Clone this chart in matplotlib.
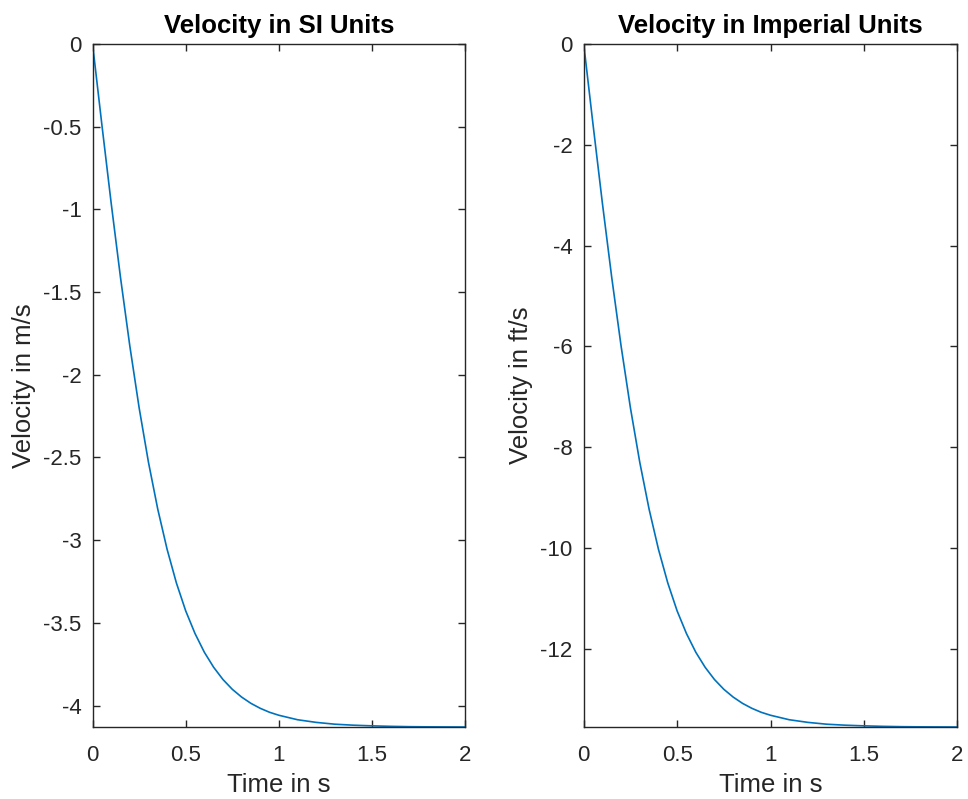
import matplotlib
matplotlib.use('Agg')
import matplotlib.pyplot as plt
from matplotlib.ticker import FormatStrFormatter

# values (velocity in m/s vs time in s)
time_s = [0, 0.05, 0.1, 0.15, 0.2, 0.25, 0.3, 0.35, 0.4, 0.45, 0.5, 0.55, 0.6,
          0.65, 0.7, 0.75, 0.8, 0.85, 0.9, 0.95, 1.0, 1.1, 1.2, 1.3, 1.4, 1.5,
          1.6, 1.7, 1.8, 1.9, 2.0]
vel_ms = [0, -0.488, -0.963, -1.412, -1.826, -2.200, -2.529, -2.813, -3.055,
          -3.259, -3.428, -3.565, -3.678, -3.769, -3.843, -3.902, -3.949,
          -3.987, -4.017, -4.041, -4.059, -4.086, -4.102, -4.113, -4.119,
          -4.123, -4.126, -4.128, -4.129, -4.1295, -4.130]
M_TO_FT = 3.28084
vel_fts = [v * M_TO_FT for v in vel_ms]

plt.rcParams['font.family'] = ['Liberation Sans', 'DejaVu Sans']
plt.rcParams['axes.unicode_minus'] = False

fig = plt.figure(figsize=(9.68, 7.99), dpi=100)
ax1 = fig.add_axes([0.0956, 0.0901, 0.385, 0.855])
ax2 = fig.add_axes([0.603, 0.0901, 0.386, 0.855])

axcol = '#262626'
blue = '#0072BD'

panels = [
    (ax1, vel_ms, 'Velocity in SI Units', 'Velocity in m/s', [0, -0.5, -1, -1.5, -2, -2.5, -3, -3.5, -4]),
    (ax2, vel_fts, 'Velocity in Imperial Units', 'Velocity in ft/s', [0, -2, -4, -6, -8, -10, -12]),
]

for ax, vals, title, ylab, yt in panels:
    ax.plot(time_s, vals, color=blue, lw=1.2)
    ax.set_xlim(0, 2)
    ax.set_ylim(min(vals), 0)
    ax.set_xticks([0, 0.5, 1, 1.5, 2])
    ax.set_yticks(yt)
    ax.xaxis.set_major_formatter(FormatStrFormatter('%g'))
    ax.yaxis.set_major_formatter(FormatStrFormatter('%g'))
    ax.tick_params(direction='in', length=5, width=1, colors=axcol,
                   labelsize=16, top=True, right=True)
    ax.tick_params(axis='y', pad=8)
    ax.tick_params(axis='x', pad=13)
    for s in ax.spines.values():
        s.set_color(axcol)
        s.set_linewidth(1)
    ax.set_title(title, fontsize=18.5, fontweight='bold', pad=8)
    ax.set_xlabel('Time in s', fontsize=18.5, color=axcol, labelpad=5)
    ax.set_ylabel(ylab, fontsize=18.5, color=axcol, labelpad=5)

fig.savefig('out.png', dpi=100)
